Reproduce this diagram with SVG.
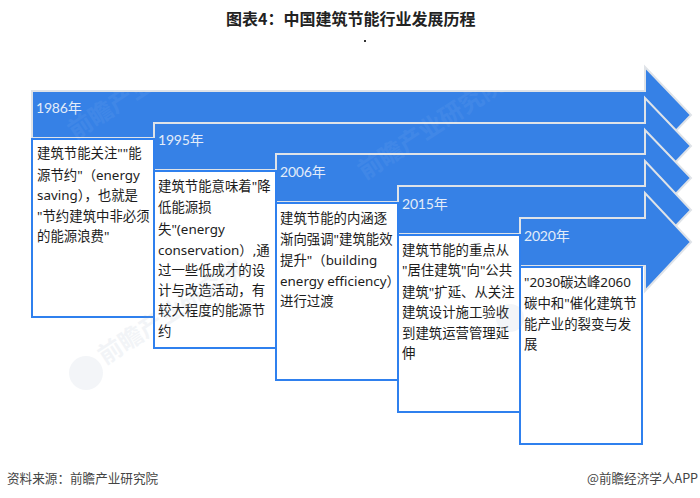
<svg xmlns="http://www.w3.org/2000/svg" width="700" height="498" viewBox="0 0 700 498">
<style>
.ar{fill:#3681e6;stroke:#dfe3e8;stroke-width:2}
.bx{fill:#fff;stroke:#2f80ee;stroke-width:2}
.yr{font:14px Lato,"Noto Sans CJK SC",sans-serif;fill:#e3ecf9;letter-spacing:-.2px}
.tx{font:13.4px "Noto Sans","Noto Sans CJK SC",sans-serif;fill:#1c1c1c}
.wm{font:700 24px "Noto Sans CJK SC",sans-serif;fill:#8aa0b8;opacity:.1}
.wm2{font:700 24px "Noto Sans CJK SC",sans-serif;fill:#fff;opacity:.05}
.lg{fill:#8aa0b8;opacity:.1}
.ft{font:12.6px "Noto Sans CJK SC",sans-serif;fill:#444}
</style>
<rect width="700" height="498" fill="#fff"/>
<text x="226" y="25" font-family="Noto Sans CJK SC,sans-serif" font-weight="700" font-size="16" fill="#222">图表4：中国建筑节能行业发展历程</text>
<rect x="364" y="40" width="2" height="2" fill="#333"/>
<g id="arrow-1986"><path class="ar" d="M32 91H645V67L691 115L645 163V138H32Z"/><text class="yr" x="36" y="113">1986年</text></g>
<g id="arrow-1995"><path class="ar" d="M154 123H645V98L691 146L645 194V170H154Z"/><text class="yr" x="158" y="145">1995年</text></g>
<g id="arrow-2006"><path class="ar" d="M276 154H645V130L691 178L645 226V202H276Z"/><text class="yr" x="280" y="177">2006年</text></g>
<g id="arrow-2015"><path class="ar" d="M398 186H645V161L691 210L645 258V234H398Z"/><text class="yr" x="402" y="209">2015年</text></g>
<g id="arrow-2020"><path class="ar" d="M520 218H645V193L691 242L645 291V266H520Z"/><text class="yr" x="524" y="241">2020年</text></g>
<g id="node-1986"><rect class="bx" x="32" y="139" width="122" height="178"/>
<text class="tx"><tspan x="37" y="158">建筑节能关注""能</tspan><tspan x="37" y="180">源节约"（energy</tspan><tspan x="37" y="200">saving），也就是</tspan><tspan x="37" y="221">"节约建筑中非必须</tspan><tspan x="37" y="241">的能源浪费"</tspan></text></g>
<g id="node-1995"><rect class="bx" x="154" y="171" width="122" height="177"/>
<text class="tx"><tspan x="158" y="191">建筑节能意味着"降</tspan><tspan x="158" y="212">低能源损</tspan><tspan x="158" y="234">失"(energy</tspan><tspan x="158" y="255">conservation）,通</tspan><tspan x="158" y="275">过一些低成才的设</tspan><tspan x="158" y="295">计与改造活动，有</tspan><tspan x="158" y="315">较大程度的能源节</tspan><tspan x="158" y="336">约</tspan></text></g>
<g id="node-2006"><rect class="bx" x="276" y="203" width="122" height="177"/>
<text class="tx"><tspan x="280" y="223">建筑节能的内涵逐</tspan><tspan x="280" y="244">渐向强调"建筑能效</tspan><tspan x="280" y="265">提升"（building</tspan><tspan x="280" y="286">energy efficiency）</tspan><tspan x="280" y="306">进行过渡</tspan></text></g>
<g id="node-2015"><rect class="bx" x="398" y="235" width="122" height="177"/>
<text class="tx"><tspan x="402" y="255">建筑节能的重点从</tspan><tspan x="402" y="275">"居住建筑"向"公共</tspan><tspan x="402" y="297">建筑"扩延、从关注</tspan><tspan x="402" y="317">建筑设计施工验收</tspan><tspan x="402" y="338">到建筑运营管理延</tspan><tspan x="402" y="358">伸</tspan></text></g>
<g id="node-2020"><rect class="bx" x="520" y="267" width="122" height="177"/>
<text class="tx"><tspan x="524" y="287">"2030碳达峰2060</tspan><tspan x="524" y="308">碳中和"催化建筑节</tspan><tspan x="524" y="329">能产业的裂变与发</tspan><tspan x="524" y="349">展</tspan></text></g>
<g id="watermarks">
<text class="wm2" transform="translate(75 140) rotate(-33)">前瞻产业研究院</text>
<text class="wm2" transform="translate(365 180) rotate(-33)">前瞻产业研究院</text>
<text class="wm" transform="translate(105 365) rotate(-33)">前瞻产业研究院</text>
<circle class="lg" cx="86" cy="373" r="17"/>
<circle class="lg" cx="510" cy="318" r="14"/>
</g>
<text class="ft" x="7" y="483">资料来源：前瞻产业研究院</text>
<text class="ft" x="587" y="483">@前瞻经济学人APP</text>
</svg>
